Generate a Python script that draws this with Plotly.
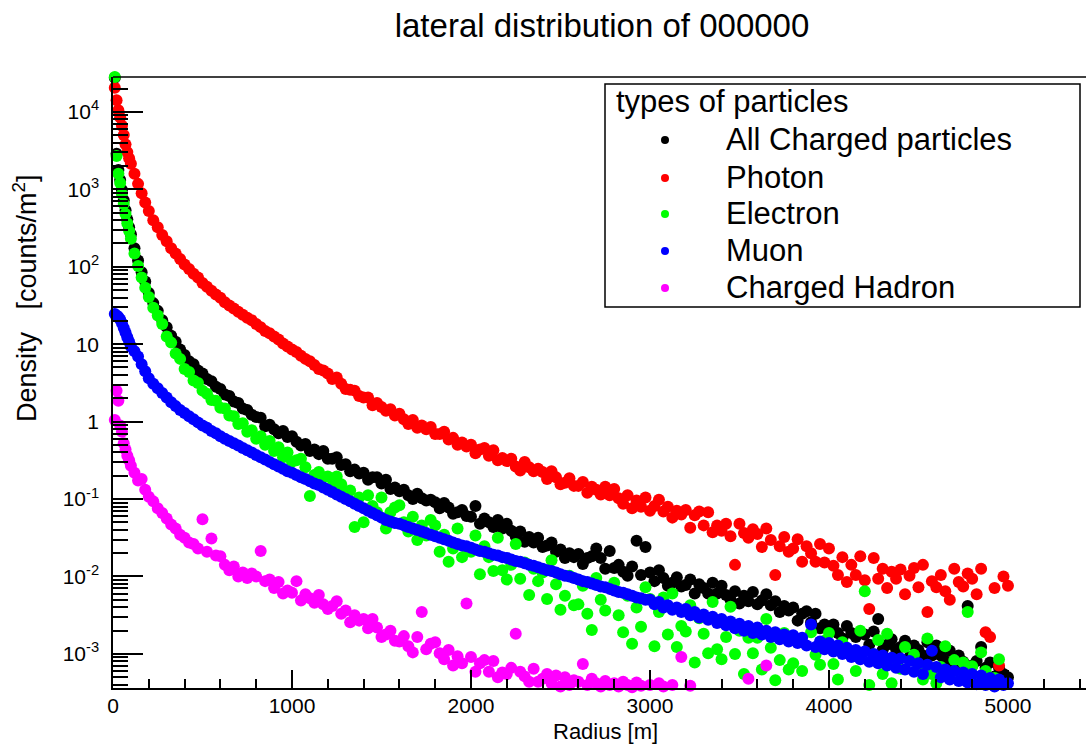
import plotly.graph_objects as go

# ---------------- data ----------------
# radius bins [m]
radius_m = [
    10, 20, 30, 40, 50, 60, 70, 80, 90, 100,
    120, 140, 160, 180,
    200, 225, 250, 275, 300, 325, 350, 375,
    400, 425, 450, 475, 500, 525, 550, 575,
    600, 625, 650, 675, 700, 725, 750, 775,
    800, 825, 850, 875, 900, 925, 950, 975,
    1000, 1025, 1050, 1075, 1100, 1125, 1150, 1175,
    1200, 1225, 1250, 1275, 1300, 1325, 1350, 1375,
    1400, 1425, 1450, 1475, 1500, 1525, 1550, 1575,
    1600, 1625, 1650, 1675, 1700, 1725, 1750, 1775,
    1800, 1825, 1850, 1875, 1900, 1925, 1950, 1975,
    2000, 2025, 2050, 2075, 2100, 2125, 2150, 2175,
    2200, 2225, 2250, 2275, 2300, 2325, 2350, 2375,
    2400, 2425, 2450, 2475, 2500, 2525, 2550, 2575,
    2600, 2625, 2650, 2675, 2700, 2725, 2750, 2775,
    2800, 2825, 2850, 2875, 2900, 2925, 2950, 2975,
    3000, 3025, 3050, 3075, 3100, 3125, 3150, 3175,
    3200, 3225, 3250, 3275, 3300, 3325, 3350, 3375,
    3400, 3425, 3450, 3475, 3500, 3525, 3550, 3575,
    3600, 3625, 3650, 3675, 3700, 3725, 3750, 3775,
    3800, 3825, 3850, 3875, 3900, 3925, 3950, 3975,
    4000, 4025, 4050, 4075, 4100, 4125, 4150, 4175,
    4200, 4225, 4250, 4275, 4300, 4325, 4350, 4375,
    4400, 4425, 4450, 4475, 4500, 4525, 4550, 4575,
    4600, 4625, 4650, 4675, 4700, 4725, 4750, 4775,
    4800, 4825, 4850, 4875, 4900, 4925, 4950, 4975,
    5000,
]

# log10 of density [counts/m^2] per radius bin (None = empty bin)
charged_log10 = [
    4.44, 3.46, 3.25, 3.12, 2.99, 2.86, 2.73, 2.61, 2.51, 2.42,
    2.24, 2.08, 1.93, 1.81,
    1.66, 1.53, 1.43, 1.31, 1.22, 1.11, 1.03, 0.93,
    0.86, 0.78, 0.74, 0.66, 0.62, 0.55, 0.52, 0.45,
    0.42, 0.35, 0.33, 0.26, 0.24, 0.17, 0.15, 0.09,
    0.06, 0.05, -0.06, -0.04, -0.10, -0.15, -0.12, -0.20,
    -0.19, -0.26, -0.31, -0.29, -0.38, -0.36, -0.42, -0.38,
    -0.48, -0.48, -0.46, -0.56, -0.55, -0.64, -0.62, -0.67,
    -0.66, -0.75, -0.72, -0.72, -0.80, -0.75, -0.87, -0.85,
    -0.90, -0.88, -0.95, -1.00, -0.93, -0.99, -1.02, -1.01,
    -1.04, -1.12, -1.05, -1.11, -1.19, -1.17, -1.14, -1.22,
    -1.23, -1.09, -1.32, -1.25, -1.30, -1.36, -1.27, -1.38,
    -1.32, -1.41, -1.48, -1.42, -1.55, -1.49, -1.56, -1.50,
    -1.62, -1.60, -1.56, -1.68, -1.65, -1.76, -1.70, -1.75,
    -1.71, -1.84, -1.76, -1.74, -1.64, -1.76, -1.90, -1.67,
    -1.89, -1.85, -1.94, -1.99, -1.87, -1.54, -1.98, -1.62,
    -1.95, -2.06, -1.92, -2.02, -2.12, -2.08, -2.01, -2.13,
    -2.11, -2.04, -2.22, -2.10, -2.15, -2.22, -2.08, -2.22,
    -2.12, -2.24, -2.30, -2.19, -2.35, -2.25, -2.32, -2.20,
    -2.36, -2.31, -2.23, -2.37, -2.32, -2.46, -2.38, -2.44,
    -2.40, -2.57, -2.48, -2.45, -2.59, -2.48, -2.67, -2.62,
    -2.67, -2.62, -2.73, -2.80, -2.64, -2.73, -2.78, -2.72,
    -2.75, -2.88, -2.71, -2.55, -2.95, -2.88, -2.81, -2.94,
    -2.91, -2.83, -3.04, -2.89, -2.95, -3.02, -2.85, -3.02,
    -2.89, -3.02, -3.09, -2.96, -3.15, -3.02, -3.10, -2.38,
    -3.15, -3.09, -2.91, -3.18, -3.11, -3.29, -3.18, -3.26,
    -3.30,
]

photon_log10 = [
    4.31, 4.15, 4.02, 3.93, 3.82, 3.70, 3.58, 3.48, 3.40, 3.33,
    3.20, 3.07, 2.95, 2.83,
    2.72, 2.60, 2.51, 2.41, 2.33, 2.24, 2.17, 2.10,
    2.03, 1.97, 1.91, 1.86, 1.79, 1.74, 1.69, 1.64,
    1.60, 1.54, 1.50, 1.46, 1.42, 1.38, 1.34, 1.31,
    1.26, 1.22, 1.17, 1.14, 1.10, 1.06, 1.01, 0.97,
    0.93, 0.90, 0.85, 0.81, 0.78, 0.73, 0.68, 0.66,
    0.62, 0.55, 0.57, 0.49, 0.42, 0.41, 0.40, 0.33,
    0.31, 0.31, 0.21, 0.24, 0.19, 0.14, 0.16, 0.08,
    0.10, 0.03, -0.03, 0.02, -0.08, -0.05, -0.10, -0.07,
    -0.16, -0.16, -0.13, -0.23, -0.21, -0.30, -0.27, -0.32,
    -0.30, -0.41, -0.36, -0.34, -0.44, -0.37, -0.50, -0.47,
    -0.51, -0.48, -0.58, -0.63, -0.52, -0.59, -0.64, -0.61,
    -0.65, -0.74, -0.64, -0.72, -0.81, -0.79, -0.73, -0.83,
    -0.83, -0.78, -0.92, -0.84, -0.88, -0.94, -0.84, -0.95,
    -0.87, -0.99, -1.06, -0.95, -1.12, -1.02, -1.10, -0.98,
    -1.15, -1.09, -1.01, -1.16, -1.10, -1.24, -1.15, -1.20,
    -1.14, -1.37, -1.21, -1.16, -1.34, -1.17, -1.43, -1.34,
    -1.41, -1.32, -1.48, -1.85, -1.32, -1.44, -1.50, -1.39,
    -1.45, -1.62, -1.38, -1.53, -1.98, -1.61, -1.49, -1.68,
    -1.64, -1.52, -1.81, -1.61, -1.70, -1.81, -1.58, -1.82,
    -1.64, -1.86, -1.98, -1.75, -2.07, -1.85, -1.98, -1.74,
    -2.05, -2.42, -1.76, -2.03, -1.90, -2.15, -1.94, -2.03,
    -1.91, -2.23, -1.99, -1.89, -2.14, -1.85, -2.46, -2.06,
    -2.14, -1.98, -2.19, -2.30, -1.90, -2.07, -2.13, -1.96,
    -2.03, -2.23, -1.90, -2.72, -2.78, -2.15, -3.15, -2.00,
    -2.12,
]

electron_log10 = [
    4.45, 3.43, 3.20, 3.08, 2.94, 2.81, 2.68, 2.56, 2.46, 2.36,
    2.17, 2.01, 1.86, 1.73,
    1.61, 1.47, 1.37, 1.26, 1.10, 1.02, 0.88, 0.81,
    0.68, 0.64, 0.53, 0.50, 0.40, 0.36, 0.28, 0.27,
    0.18, 0.17, 0.08, 0.07, -0.03, -0.02, -0.13, -0.11,
    -0.22, -0.19, -0.30, -0.25, -0.38, -0.33, -0.46, -0.40,
    -0.52, -0.50, -0.48, -0.59, -0.96, -0.69, -0.65, -0.72,
    -0.71, -0.83, -0.71, -0.81, -0.92, -0.89, -1.36, -0.98,
    -1.30, -0.95, -1.09, -1.17, -0.98, -1.38, -1.17, -1.11,
    -1.08, -1.30, -1.42, -1.23, -1.53, -1.34, -1.47, -1.27,
    -1.34, -1.68, -1.46, -1.81, -1.64, -1.38, -1.75, -1.63,
    -1.68, -1.47, -1.97, -1.61, -1.75, -1.93, -1.50, -1.92,
    -2.04, -1.85, -1.58, -2.03, -1.82, -2.24, -1.90, -2.06,
    -1.95, -2.29, -1.79, -2.10, -2.43, -2.25, -1.99, -2.37,
    -2.36, -2.12, -2.48, -2.69, -2.02, -2.30, -2.44, -2.15,
    -2.08, -2.50, -2.72, -2.25, -2.87, -2.40, -2.65, -2.14,
    -2.29, -2.90, -2.46, -2.27, -2.75, -2.22, -2.91, -2.64,
    -2.71, -2.37, -3.11, -2.54, -2.74, -2.99, -2.33, -2.94,
    -3.07, -2.78, -2.39, -3.00, -2.70, -3.26, -2.79, -2.99,
    -2.79, -3.20, -2.55, -2.92, -3.34, -3.08, -2.73, -3.20,
    -3.12, -2.85, -3.22, None, -2.72, -3.01, -3.14, -2.83,
    -2.73, -3.13, -3.33, -2.85, None, -2.98, -3.22, -2.70,
    -2.19, -3.40, -3.02, -2.82, -3.26, -2.74, -3.38, -3.10,
    -3.19, -2.91, None, -3.01, -3.15, -3.33, -2.80, -3.26,
    -3.38, -3.17, -2.90, -3.29, -3.08, None, -3.11, -2.46,
    -3.16, None, -2.98, -3.22, None, -3.31, -3.07, None,
    None,
]

muon_log10 = [
    1.39, 1.37, 1.35, 1.32, 1.27, 1.21, 1.15, 1.09, 1.03, 0.97,
    0.91, 0.84, 0.74, 0.65,
    0.56, 0.49, 0.43, 0.37, 0.31, 0.25, 0.20, 0.15,
    0.11, 0.07, 0.03, -0.01, -0.05, -0.08, -0.12, -0.15,
    -0.19, -0.22, -0.25, -0.28, -0.31, -0.34, -0.37, -0.40,
    -0.43, -0.46, -0.49, -0.52, -0.55, -0.58, -0.61, -0.64,
    -0.66, -0.69, -0.72, -0.74, -0.77, -0.80, -0.82, -0.85,
    -0.88, -0.91, -0.94, -0.97, -1.00, -1.03, -1.06, -1.09,
    -1.12, -1.15, -1.18, -1.21, -1.24, -1.27, -1.29, -1.31,
    -1.32, -1.34, -1.36, -1.38, -1.40, -1.42, -1.44, -1.46,
    -1.48, -1.50, -1.52, -1.54, -1.56, -1.58, -1.60, -1.61,
    -1.63, -1.65, -1.67, -1.68, -1.70, -1.72, -1.73, -1.75,
    -1.76, -1.78, -1.80, -1.81, -1.83, -1.85, -1.86, -1.88,
    -1.90, -1.92, -1.93, -1.95, -1.97, -1.99, -2.00, -2.02,
    -2.04, -2.06, -2.07, -2.09, -2.11, -2.13, -2.14, -2.16,
    -2.18, -2.20, -2.21, -2.23, -2.25, -2.27, -2.28, -2.30,
    -2.30, -2.36, -2.33, -2.40, -2.37, -2.43, -2.40, -2.46,
    -2.42, -2.50, -2.46, -2.53, -2.49, -2.56, -2.52, -2.60,
    -2.55, -2.63, -2.58, -2.67, -2.61, -2.70, -2.64, -2.73,
    -2.66, -2.75, -2.70, -2.78, -2.72, -2.81, -2.75, -2.84,
    -2.76, -2.86, -2.79, -2.89, -2.62, -2.91, -2.84, -2.94,
    -2.86, -2.97, -2.89, -3.00, -2.92, -3.04, -2.95, -3.07,
    -2.97, -3.10, -3.00, -3.12, -3.02, -3.15, -3.05, -3.18,
    -3.06, -3.20, -3.09, -3.23, -3.12, -3.26, -3.14, -2.96,
    -3.17, -3.30, -3.20, -3.33, -3.22, -3.35, -3.24, -3.37,
    -3.26, -3.39, -3.28, -3.40, -3.31, -3.42, -3.33, -3.40,
    -3.38,
]

hadron_log10 = [
    0.02, 0.40, 0.27, -0.05, -0.13, -0.28, -0.36, -0.44, -0.50, -0.57,
    -0.66, -0.76, -0.74, -0.88,
    -0.97, -1.03, -1.12, -1.18, -1.25, -1.33, -1.38, -1.46,
    -1.50, -1.56, -1.58, -1.64, -1.26, -1.68, -1.51, -1.73,
    -1.74, -1.85, -1.92, -1.87, -2.00, -1.95, -2.02, -1.96,
    -2.00, -1.67, -2.06, -2.04, -2.15, -2.07, -2.22, -2.18,
    -2.21, -2.06, -2.31, -2.23, -2.28, -2.34, -2.24, -2.36,
    -2.42, -2.38, -2.32, -2.48, -2.44, -2.59, -2.50, -2.57,
    -2.55, -2.67, -2.55, -2.66, -2.78, -2.75, -2.70, -2.83,
    -2.84, -2.77, -2.90, -2.98, -2.78, -2.46, -2.94, -2.87,
    -2.85, -2.99, -3.07, -2.95, -3.15, -3.03, -3.12, -2.35,
    -3.04, -3.23, -3.12, -3.08, -3.23, -3.09, -3.30, -3.24,
    -3.26, -3.18, -2.74, -3.23, -3.29, -3.36, -3.19, -3.36,
    -3.32, -3.26, -3.38, -3.28, -3.42, -3.30, -3.40, -3.34,
    -3.36, -3.13, -3.40, -3.32, -3.38, -3.42, -3.35, -3.40,
    -3.38, -3.42, -3.36, -3.40, -3.43, -3.37, -3.41, None,
    -3.40, None, -3.38, -3.42, None, -3.40, None, -3.04,
    None, -3.41, None, None, None, None, None, None,
    None, None, None, None, None, None, -3.32, None,
    None, None, -3.15, None, None, None, None, None,
    None, None, None, None, None, None, None, None,
    None, None, None, None, None, None, None, None,
    None, None, None, None, None, None, None, None,
    None, None, None, None, None, None, None, None,
    None, None, None, None, None, None, None, None,
    None, None, None, None, None, None, None, None,
    None,
]

series_names = ["All Charged particles", "Photon", "Electron", "Muon", "Charged Hadron"]
series_colors = ["#000000", "#FF0000", "#00FF00", "#0000FF", "#FF00FF"]
series_values = [charged_log10, photon_log10, electron_log10, muon_log10, hadron_log10]

y_tick_vals = [1e-3, 1e-2, 1e-1, 1, 10, 1e2, 1e3, 1e4]
y_tick_text = ["10<sup>-3</sup>", "10<sup>-2</sup>", "10<sup>-1</sup>", "1", "10",
               "10<sup>2</sup>", "10<sup>3</sup>", "10<sup>4</sup>"]

for vals in series_values:
    if len(vals) != len(radius_m):
        raise ValueError("length mismatch %d vs %d" % (len(vals), len(radius_m)))

# ---------------- figure ----------------
W, H = 1086, 745
ML, MR, MT, MB = 113, 0, 77, 57
PW, PH = W - ML - MR, H - MT - MB
FONT = "Liberation Sans, Arial, Helvetica, sans-serif"


def px(xp):
    return (xp - ML) / PW


def py(yp):
    return (H - MB - yp) / PH


fig = go.Figure()
for name, vals, color in zip(series_names, series_values, series_colors):
    xs = [r for r, v in zip(radius_m, vals) if v is not None]
    ys = [10 ** v for v in vals if v is not None]
    fig.add_trace(go.Scatter(
        x=xs, y=ys, mode="markers", name=name, showlegend=False,
        cliponaxis=False,
        marker=dict(color=color, size=12, line=dict(width=0)),
    ))

minor_y = [k * 10.0 ** e for e in range(-4, 5) for k in range(2, 10)]

fig.update_layout(
    width=W, height=H,
    margin=dict(l=ML, r=MR, t=MT, b=MB, pad=0),
    paper_bgcolor="white", plot_bgcolor="white",
    font=dict(family=FONT, color="black", size=21),
    title=dict(text="lateral distribution of 000000", x=602 / W, xref="container",
               xanchor="center", y=1 - 25 / H, yref="container", yanchor="middle",
               font=dict(size=33, family=FONT, color="black")),
    xaxis=dict(range=[0, 5436], showline=True, linecolor="black", linewidth=1.5,
               mirror=False, showgrid=False, zeroline=False,
               ticks="inside", ticklen=18, tickwidth=1.5, tickcolor="black",
               tick0=0, dtick=1000, tickfont=dict(size=21, family=FONT),
               ticklabelstandoff=-2,
               minor=dict(ticks="inside", ticklen=9, tickwidth=1.5, tickcolor="black",
                          tick0=0, dtick=200, showgrid=False)),
    yaxis=dict(type="log", range=[-3.44, 4.45], showline=True, linecolor="black",
               linewidth=1.5, mirror=False, showgrid=False, zeroline=False,
               tickmode="array", tickvals=y_tick_vals, ticktext=y_tick_text,
               ticks="inside", ticklen=30, tickwidth=1.5, tickcolor="black",
               tickfont=dict(size=21, family=FONT), ticklabelstandoff=8,
               minor=dict(tickmode="array", tickvals=minor_y, ticks="inside",
                          ticklen=15, tickwidth=1.5, tickcolor="black", showgrid=False)),
)

shapes = [
    # top frame line
    dict(type="line", xref="paper", yref="paper", x0=0, x1=1, y0=1, y1=1,
         line=dict(color="black", width=1.5)),
    # legend box
    dict(type="rect", xref="paper", yref="paper", x0=px(605), x1=px(1080),
         y0=py(307), y1=py(84), fillcolor="white", line=dict(color="black", width=1.5),
         layer="above"),
]
annotations = [
    dict(text="Radius [m]", x=2750, xref="x", y=py(731), yref="paper",
         xanchor="center", yanchor="middle", showarrow=False,
         font=dict(size=22, family=FONT, color="black")),
    dict(text="Density   [counts/m<sup>2</sup>]", x=px(25), xref="paper", y=py(298),
         yref="paper", xanchor="center", yanchor="middle", textangle=-90,
         showarrow=False, font=dict(size=27, family=FONT, color="black")),
    dict(text="types of particles", x=px(614), xref="paper", y=py(101), yref="paper",
         xanchor="left", yanchor="middle", showarrow=False,
         font=dict(size=31, family=FONT, color="black")),
]
row_y = [139, 177, 213, 250, 287]
for name, color, yy in zip(series_names, series_colors, row_y):
    annotations.append(dict(text=name, x=px(724), xref="paper", y=py(yy), yref="paper",
                            xanchor="left", yanchor="middle", showarrow=False,
                            font=dict(size=31, family=FONT, color="black")))
    shapes.append(dict(type="circle", xref="paper", yref="paper",
                       xsizemode="pixel", ysizemode="pixel",
                       xanchor=px(665), yanchor=py(yy + 1),
                       x0=-4, x1=4, y0=-4, y1=4,
                       fillcolor=color, line=dict(width=0), layer="above"))

fig.update_layout(shapes=shapes, annotations=annotations)
fig.write_html("out.html")
